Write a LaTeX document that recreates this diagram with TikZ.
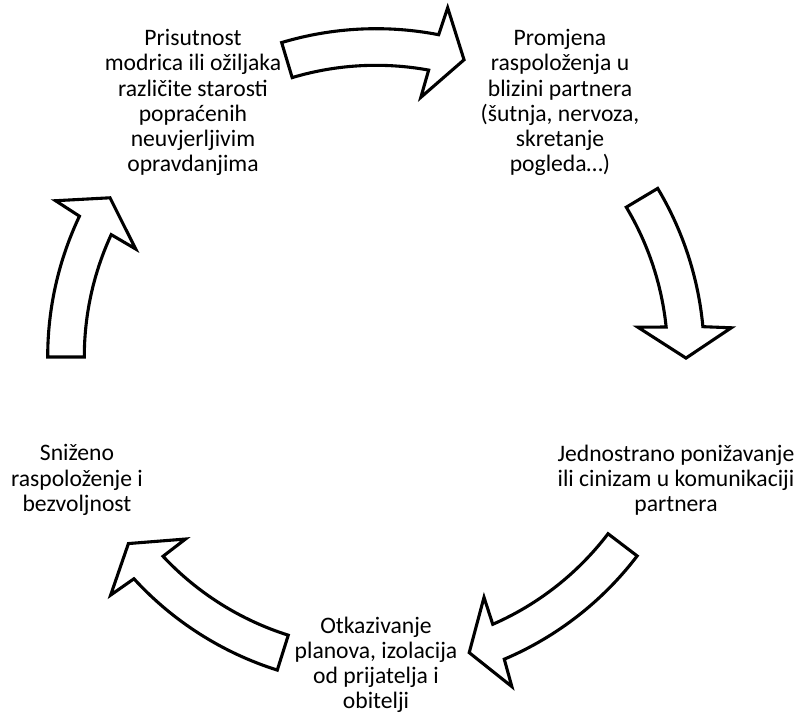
\documentclass[tikz,border=0pt]{standalone}
\usepackage{fontspec}
\setmainfont{Carlito}
\begin{document}
\begin{tikzpicture}[x=0.025cm, y=0.025cm,
    steptext/.style={align=center, font=\fontsize{16.8}{17.9}\selectfont, inner sep=0pt},
    cyclearrow/.style={draw=black, fill=white, line width=2.2pt, line join=miter}]
        % page size, centre of the cycle at the origin
        \useasboundingbox (-376,-363) rectangle (423,357);
        \coordinate (centre) at (0,0);
        % curved block arrows (tail angle / tip angle)
        \foreach \tail/\tip in {
            106.7/73.5,
            30.9/-0.2,
            -37.3/-72.5,
            -107.5/-143,
            180/149.1
        } {
            \pgfmathsetmacro{\base}{\tip+5.8}
            \draw[cyclearrow] (\tail:328.3)
                arc[start angle=\tail, end angle=\base-0.3, radius=328.3]
                -- (\base-0.9:356.5) -- (\tip:310) -- (\base+0.9:263.5)
                -- (\base+0.3:291.7)
                arc[start angle=\base+0.3, end angle=\tail, radius=291.7] -- cycle;
        }
        % texts
        \node[steptext] (bruises) at (-183,254.5)
            {Prisutnost\\modrica ili ožiljaka\\različite starosti\\popraćenih\\neuvjerljivim\\opravdanjima};
        \node[steptext] (moodchange) at (184,254.5)
            {Promjena\\raspoloženja u\\blizini partnera\\(šutnja, nervoza,\\skretanje\\pogleda…)};
        \node[steptext] (humiliation) at (300,-123)
            {Jednostrano ponižavanje\\ili cinizam u komunikaciji\\partnera};
        \node[steptext] (isolation) at (0,-308)
            {Otkazivanje\\planova, izolacija\\od prijatelja i\\obitelji};
        \node[steptext] (lowmood) at (-299,-123)
            {Sniženo\\raspoloženje i\\bezvoljnost};
\end{tikzpicture}
\end{document}
